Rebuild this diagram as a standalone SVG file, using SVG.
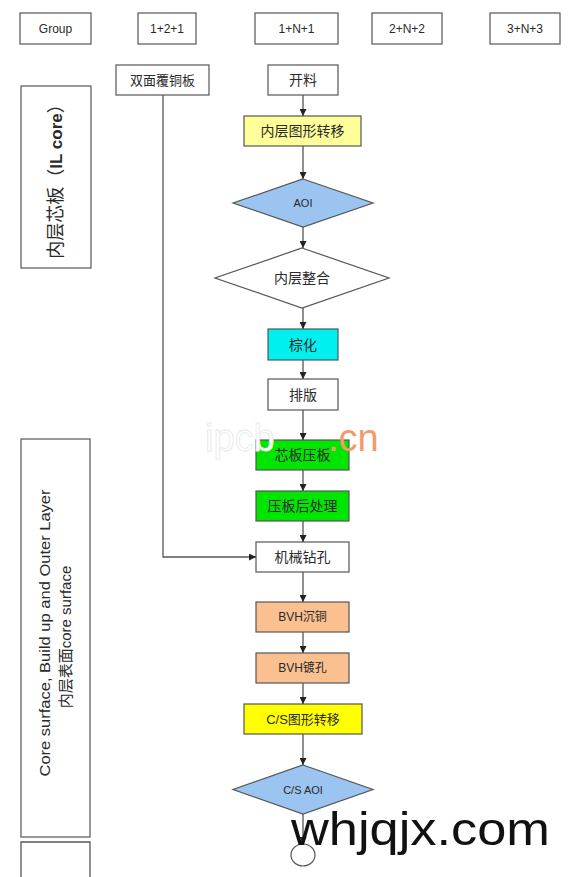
<svg xmlns="http://www.w3.org/2000/svg" width="576" height="877" viewBox="0 0 576 877">
<defs>
<marker id="ah" viewBox="0 0 10 10" refX="10" refY="5" markerWidth="7" markerHeight="7" markerUnits="userSpaceOnUse" orient="auto">
<path d="M0,0 L10,5 L0,10 z" fill="#222"/>
</marker>
<style>
.box{fill:#fff;stroke:#555;stroke-width:1.2}
.t{font-family:"Liberation Sans","Noto Sans CJK SC",sans-serif;fill:#2a2a2a;text-anchor:middle;dominant-baseline:central}
.c{stroke:#555;stroke-width:1.3;fill:none;marker-end:url(#ah)}
.l{stroke:#555;stroke-width:1.3;fill:none}
</style>
</defs>
<rect width="576" height="877" fill="#fff"/>

<g id="hdr-group"><rect class="box" x="20" y="13" width="71" height="31"/><text class="t" x="55.5" y="29" font-size="12">Group</text></g>
<g id="hdr-121"><rect class="box" x="138" y="13" width="58" height="31"/><text class="t" x="167" y="29" font-size="12">1+2+1</text></g>
<g id="hdr-1n1"><rect class="box" x="255" y="13" width="83" height="31"/><text class="t" x="296.5" y="29" font-size="12">1+N+1</text></g>
<g id="hdr-2n2"><rect class="box" x="372" y="13" width="70" height="31"/><text class="t" x="407" y="29" font-size="12">2+N+2</text></g>
<g id="hdr-3n3"><rect class="box" x="490" y="13" width="70" height="31"/><text class="t" x="525" y="29" font-size="12">3+N+3</text></g>

<g id="lbl-ilcore"><rect class="box" x="21" y="86" width="70" height="182"/>
<text class="t" transform="translate(56,177) rotate(-90)" font-size="18">内层芯板（<tspan font-weight="bold" font-size="17">IL core</tspan>）</text></g>
<g id="lbl-surface"><rect class="box" x="21" y="439" width="69" height="398"/>
<text class="t" transform="translate(44,633) rotate(-90)" font-size="15" textLength="287" lengthAdjust="spacingAndGlyphs">Core surface, Build up and Outer Layer</text>
<text class="t" transform="translate(65,637) rotate(-90)" font-size="15">内层表面core surface</text></g>
<g id="lbl-next"><path class="l" d="M21,877 V842 H90 V877" stroke-width="1.2"/></g>

<g id="n-ccl"><rect class="box" x="116" y="65" width="93" height="30"/><text class="t" x="162.5" y="80" font-size="13">双面覆铜板</text></g>
<g id="n-cut"><rect class="box" x="268" y="65" width="70" height="30"/><text class="t" x="303" y="80" font-size="14">开料</text></g>
<g id="n-ilimg"><rect class="box" x="244" y="116" width="117" height="30" style="fill:#ffff99"/><text class="t" x="302.5" y="131" font-size="14">内层图形转移</text></g>
<g id="n-aoi"><polygon class="box" points="303,179 373,203 303,227 233,203" style="fill:#9cc4f0"/><text class="t" x="303" y="203" font-size="11">AOI</text></g>
<g id="n-ilint"><polygon class="box" points="302,248 389,278 302,308 215,278"/><text class="t" x="302" y="278" font-size="14">内层整合</text></g>
<g id="n-brown"><rect class="box" x="268" y="329" width="70" height="31" style="fill:#00f0f0"/><text class="t" x="303" y="344.5" font-size="14">棕化</text></g>
<g id="n-layup"><rect class="box" x="268" y="379" width="70" height="31"/><text class="t" x="303" y="394.5" font-size="14">排版</text></g>
<g id="n-press"><rect class="box" x="256" y="440" width="93" height="30" style="fill:#00e600"/><text class="t" x="302.5" y="455" font-size="14">芯板压板</text></g>
<g id="n-post"><rect class="box" x="256" y="491" width="93" height="30" style="fill:#00e600"/><text class="t" x="302.5" y="506" font-size="14">压板后处理</text></g>
<g id="n-drill"><rect class="box" x="256" y="542" width="93" height="30"/><text class="t" x="302.5" y="557" font-size="14">机械钻孔</text></g>
<g id="n-bvhcu"><rect class="box" x="256" y="602" width="93" height="30" style="fill:#fac090"/><text class="t" x="302.5" y="617" font-size="12">BVH沉铜</text></g>
<g id="n-bvhpl"><rect class="box" x="256" y="653" width="93" height="30" style="fill:#fac090"/><text class="t" x="302.5" y="668" font-size="12">BVH镀孔</text></g>
<g id="n-csimg"><rect class="box" x="244" y="704" width="118" height="30" style="fill:#ffff00"/><text class="t" x="303" y="719" font-size="13">C/S图形转移</text></g>
<g id="n-csaoi"><polygon class="box" points="303,765 373,789.5 303,814 233,789.5" style="fill:#9cc4f0"/><text class="t" x="303" y="789.5" font-size="11">C/S AOI</text></g>
<g id="n-end"><ellipse class="box" cx="303" cy="855" rx="12" ry="11"/></g>

<g id="connectors">
<path class="c" d="M303,95 V116"/>
<path class="c" d="M303,146 V179"/>
<path class="c" d="M303,227 V248"/>
<path class="c" d="M303,308 V329"/>
<path class="c" d="M303,360 V379"/>
<path class="c" d="M303,410 V440"/>
<path class="c" d="M303,470 V491"/>
<path class="c" d="M303,521 V542"/>
<path class="c" d="M303,572 V602"/>
<path class="c" d="M303,632 V653"/>
<path class="c" d="M303,683 V704"/>
<path class="c" d="M303,734 V765"/>
<path class="c" d="M303,814 V844"/>
<path class="c" d="M163,95 V557 H256"/>
</g>

<g id="watermarks">
<text x="205" y="451" font-family="Liberation Sans, sans-serif" font-size="38" fill="#fff" stroke="#e8e8e8" stroke-width="0.8">ipcb</text>
<text x="328" y="451" font-family="Liberation Sans, sans-serif" font-size="38" fill="#f29a6e">.cn</text>
<text x="291" y="845" font-family="Liberation Sans, sans-serif" font-size="46" fill="#111" textLength="259" lengthAdjust="spacingAndGlyphs">whjqjx.com</text>
</g>
</svg>
